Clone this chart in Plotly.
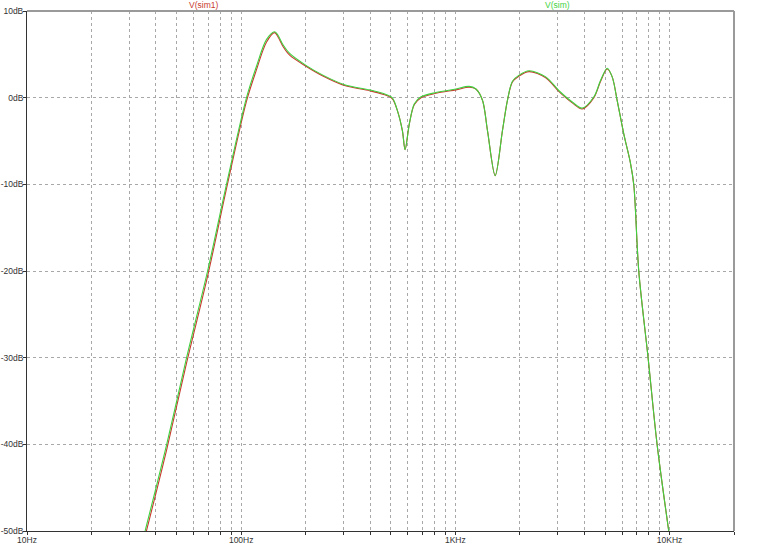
import plotly.graph_objects as go

# ---- data (frequency in Hz, magnitude in dB) ----
freq_hz = [35.6, 44.9, 55.6, 69.7, 85.4, 105.9, 117.8, 131.2, 143.4, 148.6, 156.8, 168.4,
           201.5, 240.7, 303.8, 397.2, 458, 506.7, 536.3, 565.8, 582.6, 610,
           643.6, 691.5, 812.4, 1006.5, 1160.5, 1247, 1338.6, 1412.5, 1534.6, 1659.5,
           1750.9, 1847.3, 1984.7, 2210, 2642, 3048, 3515, 3913, 4436, 4767,
           5117, 5399, 5694, 6118, 6577, 6813, 7189, 7941, 8748, 9916]

v_sim_db = [-50.0, -40.0, -30.0, -20.0, -10.0, 0.0, 3.6, 6.7, 7.6, 7.2, 6.1, 5.1,
            3.7, 2.6, 1.5, 0.9, 0.5, 0.0, -1.5, -3.8, -6.0, -3.0,
            -0.7, 0.1, 0.6, 1.0, 1.3, 1.0, -0.3, -3.8, -9.0, -3.8,
            -0.3, 1.9, 2.6, 3.1, 2.4, 0.8, -0.5, -1.2, 0.1, 2.0,
            3.4, 2.4, -0.3, -4.2, -7.6, -10.1, -20.1, -30.0, -40.0, -50.0]

v_sim1_db = [-50.6, -40.6, -30.6, -20.6, -10.5, -0.4, 3.2, 6.4, 7.5, 7.0, 5.9, 4.9,
             3.6, 2.5, 1.4, 0.8, 0.4, -0.1, -1.5, -3.8, -6.0, -3.0,
             -0.8, 0.0, 0.5, 0.9, 1.2, 1.0, -0.3, -3.8, -9.0, -3.8,
             -0.3, 1.8, 2.5, 3.0, 2.3, 0.7, -0.6, -1.3, 0.0, 1.9,
             3.3, 2.4, -0.3, -4.2, -7.6, -10.1, -20.1, -30.0, -40.0, -50.0]

x_tick_vals = [m * 10 ** d for d in range(1, 5) for m in range(1, 10)] + [20000]
x_tick_labels = {10: "10Hz", 100: "100Hz", 1000: "1KHz", 10000: "10KHz"}
y_tick_vals = [-50, -40, -30, -20, -10, 0, 10]
y_tick_labels = ["-50dB", "-40dB", "-30dB", "-20dB", "-10dB", "0dB", "10dB"]

series_names = ["V(sim1)", "V(sim)"]
RED = "#c83a2e"
GREEN = "#3fd23f"
FONT = "Liberation Sans, Arial"

fig = go.Figure()
fig.add_trace(go.Scatter(x=freq_hz, y=v_sim1_db, mode="lines", name=series_names[0],
                         line=dict(color=RED, width=1.1, shape="spline", smoothing=0.9)))
fig.add_trace(go.Scatter(x=freq_hz, y=v_sim_db, mode="lines", name=series_names[1],
                         line=dict(color=GREEN, width=1.1, shape="spline", smoothing=0.9)))

grid = dict(showgrid=True, gridcolor="#a8a8a8", griddash="3px,3px", gridwidth=1)

fig.update_xaxes(type="log", range=[1, 4.30103], tickmode="array",
                 tickvals=x_tick_vals,
                 ticktext=[x_tick_labels.get(v, "") for v in x_tick_vals],
                 ticks="outside", ticklen=3, tickcolor="#333", showline=True,
                 linecolor="#333", linewidth=1, zeroline=False, automargin=False,
                 ticklabelstandoff=-2,
                 tickfont=dict(family=FONT, size=8.5, color="#333"),
                 **grid)
fig.update_yaxes(range=[-50, 10], tickmode="array", tickvals=y_tick_vals,
                 ticktext=y_tick_labels, ticks="outside", ticklen=3, tickcolor="#333",
                 showline=True, linecolor="#333", linewidth=1, zeroline=False,
                 automargin=False, ticklabelstandoff=-2,
                 tickfont=dict(family=FONT, size=8.5, color="#333"),
                 **grid)

fig.update_layout(
    width=768, height=546,
    margin=dict(l=27, r=34, t=11, b=15, pad=0),
    paper_bgcolor="white", plot_bgcolor="white",
    showlegend=False,
    shapes=[
        dict(type="line", xref="paper", yref="paper", x0=0, x1=1, y0=1, y1=1,
             line=dict(color="#9a9a9a", width=2)),
        dict(type="line", xref="paper", yref="paper", x0=1, x1=1, y0=0, y1=1,
             line=dict(color="#9a9a9a", width=2)),
    ],
    annotations=[
        dict(text=series_names[0], xref="paper", yref="paper", x=0.249, y=1.0,
             yanchor="bottom", xanchor="center", showarrow=False, yshift=-1,
             font=dict(family=FONT, size=8.5, color=RED)),
        dict(text=series_names[1], xref="paper", yref="paper", x=0.75, y=1.0,
             yanchor="bottom", xanchor="center", showarrow=False, yshift=-1,
             font=dict(family=FONT, size=8.5, color=GREEN)),
    ],
)

fig.write_html("out.html", config={"displayModeBar": False},
               post_script="document.body.style.margin='0px';document.body.style.overflow='hidden';")
